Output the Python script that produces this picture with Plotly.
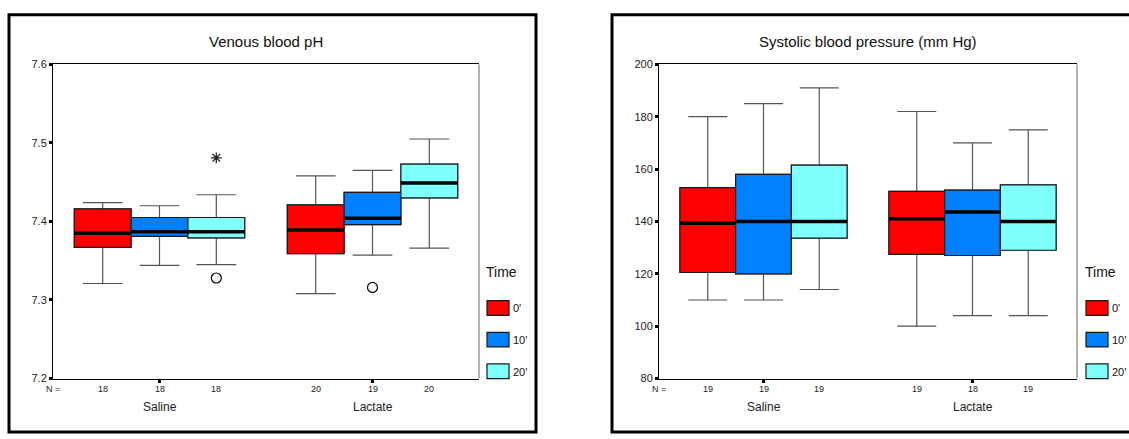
import plotly.graph_objects as go

# ---------------- data ----------------
groups = ["Saline", "Lactate"]
times = ["0'", "10'", "20'"]
time_colors = ["#FF0000", "#0080FF", "#80FFFF"]

# Venous blood pH  (rows = time, columns = group)
ph_lowerfence = [[7.321, 7.308], [7.344, 7.357], [7.345, 7.366]]
ph_q1 = [[7.367, 7.359], [7.381, 7.396], [7.379, 7.430]]
ph_median = [[7.385, 7.389], [7.387, 7.404], [7.387, 7.449]]
ph_q3 = [[7.416, 7.421], [7.405, 7.437], [7.405, 7.473]]
ph_upperfence = [[7.424, 7.458], [7.420, 7.465], [7.434, 7.505]]
ph_n = [[18, 20], [18, 19], [18, 20]]
# outliers: (group index, time index, value)
ph_outliers = [(0, 2, 7.328), (1, 1, 7.316)]
ph_extremes = [(0, 2, 7.481)]

# Systolic blood pressure (mm Hg)
sbp_lowerfence = [[110, 100], [110, 104], [114, 104]]
sbp_q1 = [[120.5, 127.4], [120, 127], [133.6, 129]]
sbp_median = [[139.3, 141], [140, 143.6], [140, 140]]
sbp_q3 = [[152.9, 151.5], [158, 152], [161.5, 154]]
sbp_upperfence = [[180, 182], [185, 170], [191, 175]]
sbp_n = [[19, 19], [19, 18], [19, 19]]
sbp_outliers = []
sbp_extremes = []

panel_titles = ["Venous blood pH", "Systolic blood pressure (mm Hg)"]
legend_title = "Time"

# ---------------- layout constants ----------------
W, H = 1129, 439
FONT = "Liberation Sans, Arial, sans-serif"
BOXW = 0.8 / len(times)


def px_x(p):
    return p / W


def px_y(p):
    return 1 - p / H


def pos(g, t):
    return g + (t - (len(times) - 1) / 2) * BOXW


fig = go.Figure()

panels = [
    dict(xa="x", ya="y", lf=ph_lowerfence, q1=ph_q1, md=ph_median, q3=ph_q3,
         uf=ph_upperfence, n=ph_n, out=ph_outliers, ext=ph_extremes,
         xdom=[px_x(53), px_x(479)], yrange=[7.2, 7.6], dtick=0.1, fmt=".1f",
         frame=[9, 536], legx=484),
    dict(xa="x2", ya="y2", lf=sbp_lowerfence, q1=sbp_q1, md=sbp_median, q3=sbp_q3,
         uf=sbp_upperfence, n=sbp_n, out=sbp_outliers, ext=sbp_extremes,
         xdom=[px_x(659), px_x(1077)], yrange=[80, 200], dtick=20, fmt="d",
         frame=[612, 1160], legx=1083),
]

annotations = []
shapes = []
ydom = [px_y(383), px_y(60)]


def ann(**kw):
    d = dict(showarrow=False, xanchor="center", yanchor="middle")
    d.update(kw)
    annotations.append(d)


for pi, P in enumerate(panels):
    for t, tname in enumerate(times):
        xs = [pos(g, t) for g in range(len(groups))]
        # whiskers (gray)
        fig.add_trace(go.Box(
            x=xs, q1=P["q1"][t], median=P["md"][t], q3=P["q3"][t],
            lowerfence=P["lf"][t], upperfence=P["uf"][t],
            width=BOXW, whiskerwidth=0.7, fillcolor=time_colors[t],
            line=dict(color="#555555", width=1.2), boxpoints=False,
            name=tname, xaxis=P["xa"], yaxis=P["ya"], showlegend=False,
            hoverinfo="skip"))
        # box body (dark outline)
        fig.add_trace(go.Box(
            x=xs, q1=P["q1"][t], median=P["md"][t], q3=P["q3"][t],
            lowerfence=P["q1"][t], upperfence=P["q3"][t],
            width=BOXW, whiskerwidth=0.7, fillcolor=time_colors[t],
            line=dict(color="#1a1a1a", width=1.2), boxpoints=False,
            name=tname, xaxis=P["xa"], yaxis=P["ya"], showlegend=False,
            hoverinfo="skip"))
        # thick median
        mx, my = [], []
        for g in range(len(groups)):
            mx += [xs[g] - BOXW / 2, xs[g] + BOXW / 2, None]
            my += [P["md"][t][g], P["md"][t][g], None]
        fig.add_trace(go.Scatter(
            x=mx, y=my, mode="lines", line=dict(color="black", width=3.5),
            xaxis=P["xa"], yaxis=P["ya"], showlegend=False, hoverinfo="skip"))
        # N counts
        for g in range(len(groups)):
            ann(x=xs[g], y=px_y(394), xref=P["xa"], yref="paper",
                text=str(P["n"][t][g]),
                font=dict(size=9, color="#222", family=FONT))
    # outliers
    if P["out"]:
        fig.add_trace(go.Scatter(
            x=[pos(g, t) for g, t, v in P["out"]], y=[v for g, t, v in P["out"]],
            mode="markers", marker=dict(symbol="circle-open", size=10, color="black",
                                        line=dict(color="black", width=1.2)),
            xaxis=P["xa"], yaxis=P["ya"], showlegend=False, hoverinfo="skip"))
    if P["ext"]:
        fig.add_trace(go.Scatter(
            x=[pos(g, t) for g, t, v in P["ext"]], y=[v for g, t, v in P["ext"]],
            mode="markers", marker=dict(symbol="asterisk-open", size=9, color="#222",
                                        line=dict(color="#222", width=1.3)),
            xaxis=P["xa"], yaxis=P["ya"], showlegend=False, hoverinfo="skip"))

    # group labels and N =
    for g, gname in enumerate(groups):
        ann(x=g, y=px_y(412), xref=P["xa"], yref="paper", text=gname,
            font=dict(size=12, color="#222", family=FONT))
    ann(x=P["xdom"][0], y=px_y(394), xref="paper", yref="paper", text="N =",
        font=dict(size=9, color="#222", family=FONT))
    # title
    ann(x=sum(P["xdom"]) / 2, y=px_y(36), xref="paper", yref="paper",
        text=panel_titles[pi], font=dict(size=15, color="#111", family=FONT))
    # outer frame
    shapes.append(dict(type="rect", xref="paper", yref="paper",
                       x0=px_x(P["frame"][0]), x1=px_x(P["frame"][1]),
                       y0=px_y(438), y1=px_y(9),
                       line=dict(color="black", width=3)))
    # gray right edge of plot area
    shapes.append(dict(type="line", xref=P["xa"] + " domain", yref=P["ya"] + " domain",
                       x0=1, x1=1, y0=0, y1=1, line=dict(color="#666666", width=1)))
    # legend
    lx = P["legx"]
    ann(x=px_x(lx), y=px_y(273), xref="paper", yref="paper", text=legend_title,
        xanchor="left", font=dict(size=14, color="#111", family=FONT))
    for t, tname in enumerate(times):
        top = 303 + t * 32.5
        shapes.append(dict(type="rect", xref="paper", yref="paper",
                           x0=px_x(lx + 3), x1=px_x(lx + 25),
                           y0=px_y(top + 15), y1=px_y(top),
                           fillcolor=time_colors[t],
                           line=dict(color="#1a1a1a", width=1.2)))
        ann(x=px_x(lx + 27), y=px_y(top + 8), xref="paper", yref="paper",
            text=tname, xanchor="left",
            font=dict(size=11, color="#111", family=FONT))

axis_common = dict(showgrid=False, zeroline=False, showline=True,
                   linecolor="black", linewidth=1,
                   ticks="outside", ticklen=3, tickwidth=3, tickcolor="black")

layout_axes = {}
for pi, P in enumerate(panels):
    sx = "" if pi == 0 else str(pi + 1)
    layout_axes["xaxis" + sx] = dict(
        domain=P["xdom"], range=[-0.5, len(groups) - 0.5], tickvals=list(range(len(groups))),
        showticklabels=False, anchor="y" + sx, fixedrange=True, mirror=True,
        **axis_common)
    layout_axes["yaxis" + sx] = dict(
        domain=ydom, range=P["yrange"], dtick=P["dtick"], tickformat=P["fmt"],
        anchor="x" + sx, tickfont=dict(size=11, color="#222", family=FONT),
        fixedrange=True, mirror=False, **axis_common)

fig.update_layout(
    width=W, height=H, margin=dict(l=0, r=0, t=0, b=0),
    paper_bgcolor="white", plot_bgcolor="white", showlegend=False,
    boxmode="overlay", annotations=annotations, shapes=shapes,
    font=dict(family=FONT), **layout_axes)

fig.write_html(
    "out.html",
    config={"responsive": False, "displayModeBar": False},
    post_script="document.body.style.margin='0';document.body.style.padding='0';"
                "document.body.style.overflow='hidden';",
)
